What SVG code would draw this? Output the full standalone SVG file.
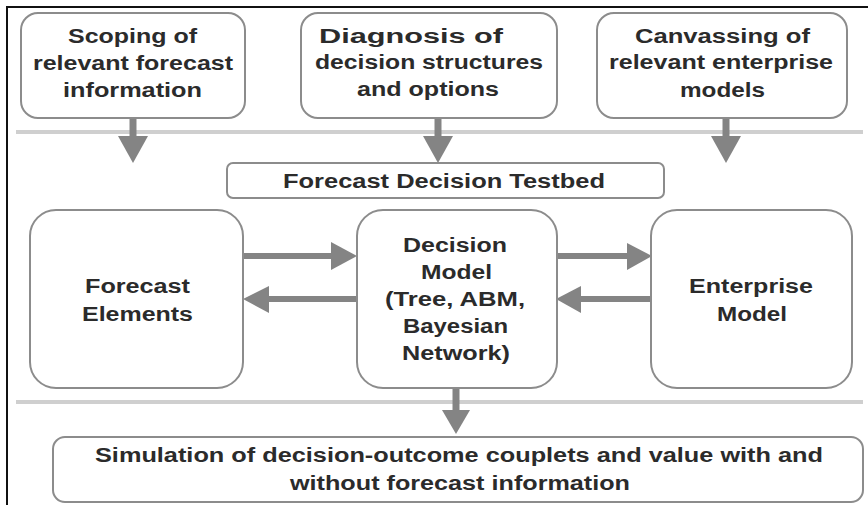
<svg xmlns="http://www.w3.org/2000/svg" width="868" height="505" viewBox="0 0 868 505">
<style>
.box{fill:#fff;stroke:#8c8c8c;stroke-width:2}
.sep{stroke:#cfcfcf;stroke-width:4}
.shaft{stroke:#848484;fill:none}
.head{fill:#848484}
text{font-family:"Liberation Sans",Arial,sans-serif;font-weight:bold;fill:#2b2b2b;font-size:20px}
</style>
<rect width="868" height="505" fill="#fff"/>
<path d="M7 505 V7 H868" fill="none" stroke="#111" stroke-width="2"/>
<line class="sep" x1="16" y1="132" x2="863" y2="132"/>
<line class="sep" x1="16" y1="402" x2="863" y2="402"/>

<g id="connectors">
  <line class="shaft" stroke-width="7" x1="133" y1="118" x2="133" y2="138"/>
  <polygon class="head" points="118,136 148,136 133,163"/>
  <line class="shaft" stroke-width="7" x1="438" y1="118" x2="438" y2="138"/>
  <polygon class="head" points="423,136 453,136 438,163"/>
  <line class="shaft" stroke-width="7" x1="726" y1="118" x2="726" y2="138"/>
  <polygon class="head" points="711,136 741,136 726,163"/>

  <line class="shaft" stroke-width="6" x1="243" y1="256" x2="334" y2="256"/>
  <polygon class="head" points="331,242 331,270 357,256"/>
  <line class="shaft" stroke-width="6" x1="357" y1="299" x2="266" y2="299"/>
  <polygon class="head" points="269,286 269,313 243,299"/>

  <line class="shaft" stroke-width="6" x1="557" y1="256" x2="630" y2="256"/>
  <polygon class="head" points="627,243 627,270 652,256"/>
  <line class="shaft" stroke-width="6" x1="651" y1="299" x2="578" y2="299"/>
  <polygon class="head" points="581,286 581,313 556,299"/>

  <line class="shaft" stroke-width="7" x1="456" y1="388" x2="456" y2="412"/>
  <polygon class="head" points="442,410 470,410 456,434"/>
</g>

<g id="scoping">
  <rect class="box" x="21" y="13" width="224" height="105" rx="17"/>
  <text x="68" y="43" textLength="129" lengthAdjust="spacingAndGlyphs">Scoping of</text>
  <text x="33" y="70" textLength="200" lengthAdjust="spacingAndGlyphs">relevant forecast</text>
  <text x="63" y="97" textLength="139" lengthAdjust="spacingAndGlyphs">information</text>
</g>
<g id="diagnosis">
  <rect class="box" x="301" y="13" width="256" height="105" rx="17"/>
  <text x="319" y="43" textLength="184" lengthAdjust="spacingAndGlyphs">Diagnosis of</text>
  <text x="315" y="69" textLength="228" lengthAdjust="spacingAndGlyphs">decision structures</text>
  <text x="357" y="96" textLength="142" lengthAdjust="spacingAndGlyphs">and options</text>
</g>
<g id="canvassing">
  <rect class="box" x="597" y="13" width="250" height="105" rx="17"/>
  <text x="635" y="43" textLength="175" lengthAdjust="spacingAndGlyphs">Canvassing of</text>
  <text x="609" y="69" textLength="224" lengthAdjust="spacingAndGlyphs">relevant enterprise</text>
  <text x="680" y="97" textLength="85" lengthAdjust="spacingAndGlyphs">models</text>
</g>
<g id="testbed">
  <rect class="box" x="227" y="163" width="437" height="35" rx="6"/>
  <text x="283" y="188" textLength="322" lengthAdjust="spacingAndGlyphs">Forecast Decision Testbed</text>
</g>
<g id="forecast-elements">
  <rect class="box" x="30" y="210" width="213" height="178" rx="26"/>
  <text x="85" y="293" textLength="105" lengthAdjust="spacingAndGlyphs">Forecast</text>
  <text x="82" y="321" textLength="111" lengthAdjust="spacingAndGlyphs">Elements</text>
</g>
<g id="decision-model">
  <rect class="box" x="357" y="210" width="200" height="178" rx="26"/>
  <text x="403" y="252" textLength="104" lengthAdjust="spacingAndGlyphs">Decision</text>
  <text x="421" y="279" textLength="71" lengthAdjust="spacingAndGlyphs">Model</text>
  <text x="385" y="306" textLength="140" lengthAdjust="spacingAndGlyphs">(Tree, ABM,</text>
  <text x="403" y="333" textLength="105" lengthAdjust="spacingAndGlyphs">Bayesian</text>
  <text x="402" y="360" textLength="108" lengthAdjust="spacingAndGlyphs">Network)</text>
</g>
<g id="enterprise-model">
  <rect class="box" x="651" y="210" width="201" height="178" rx="26"/>
  <text x="689" y="293" textLength="124" lengthAdjust="spacingAndGlyphs">Enterprise</text>
  <text x="717" y="321" textLength="70" lengthAdjust="spacingAndGlyphs">Model</text>
</g>
<g id="simulation">
  <rect class="box" x="53" y="437" width="810" height="65" rx="12"/>
  <text x="95" y="462" textLength="728" lengthAdjust="spacingAndGlyphs">Simulation of decision-outcome couplets and value with and</text>
  <text x="290" y="490" textLength="340" lengthAdjust="spacingAndGlyphs">without forecast information</text>
</g>
</svg>
